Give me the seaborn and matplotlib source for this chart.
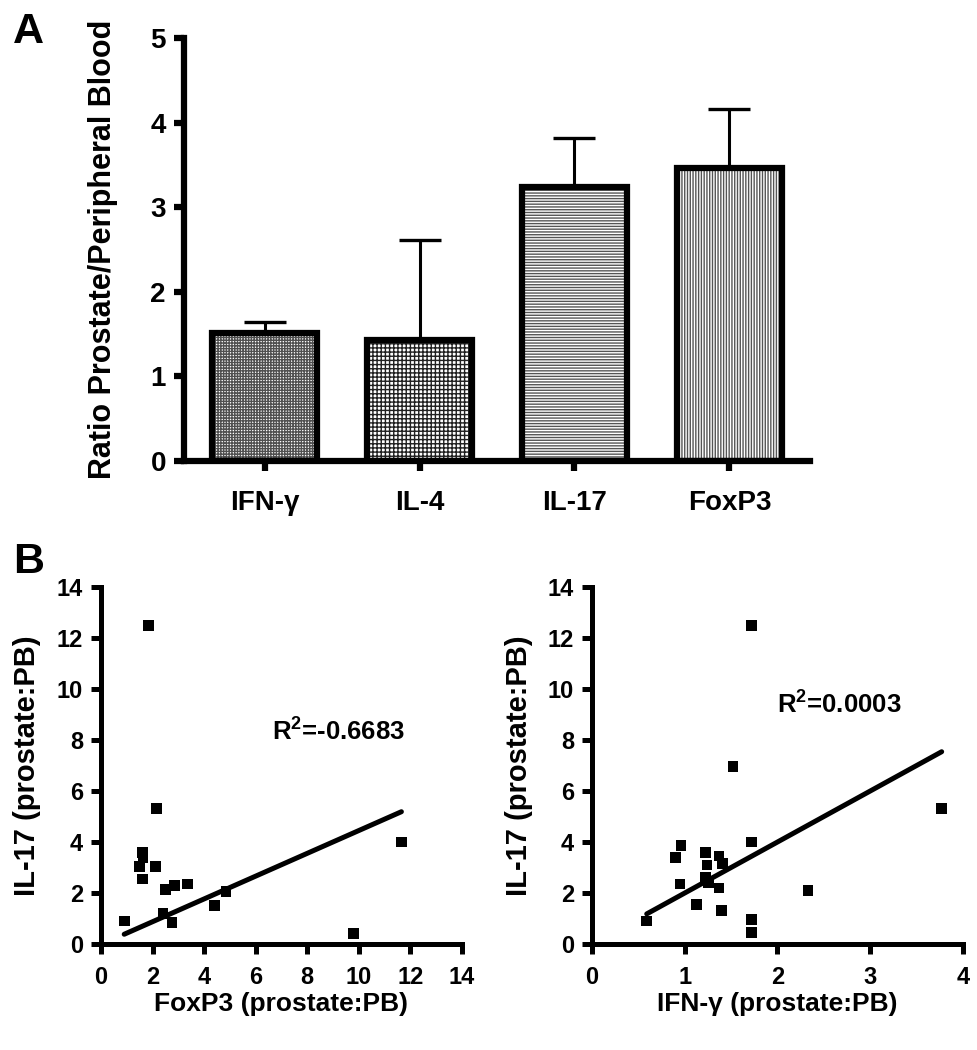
import numpy as np
import pandas as pd
import matplotlib
matplotlib.use("Agg")
import matplotlib.pyplot as plt
import seaborn as sns

# ============================================================
# DATA
# ============================================================

# Panel A: ratio prostate / peripheral blood, mean and upper error
cytokines = ["IFN-γ", "IL-4", "IL-17", "FoxP3"]
ratio_mean = [1.51, 1.43, 3.24, 3.46]
ratio_err = [0.13, 1.18, 0.58, 0.70]
bar_hatch = ["++++++", "++++", "------", "||||||"]
hatch_gray = ["#505050", "#202020", "#555555", "#555555"]

# Panel B left: FoxP3 vs IL-17 (prostate:PB)
foxp3_x = [0.9, 1.85, 2.15, 1.6, 1.63, 1.5, 1.6, 2.1, 2.5, 2.85, 3.35,
           2.4, 2.75, 4.4, 4.85, 9.8, 11.65]
foxp3_il17 = [0.9, 12.5, 5.3, 3.6, 3.4, 3.05, 2.55, 3.05, 2.15, 2.3, 2.35,
              1.2, 0.85, 1.5, 2.05, 0.4, 4.0]
foxp3_fit = [0.447, -0.02]          # slope, intercept
foxp3_r2 = "-0.6683"

# Panel B right: IFN-γ vs IL-17 (prostate:PB)
ifng_x = [0.59, 0.96, 0.9, 0.95, 1.13, 1.22, 1.24, 1.22, 1.26, 1.37, 1.41,
          1.37, 1.4, 1.52, 1.72, 1.72, 1.72, 1.72, 2.33, 3.77]
ifng_il17 = [0.9, 3.85, 3.4, 2.35, 1.55, 3.6, 3.1, 2.6, 2.4, 3.45, 3.15,
             2.2, 1.3, 6.95, 12.5, 4.0, 0.95, 0.45, 2.1, 5.3]
ifng_fit = [2.0, 0.0]
ifng_r2 = "0.0003"

# ============================================================
# STYLE
# ============================================================

sns.set_theme(style="ticks")
plt.rcParams["font.family"] = ["Liberation Sans", "DejaVu Sans"]
plt.rcParams["font.weight"] = "bold"
plt.rcParams["axes.labelweight"] = "bold"
plt.rcParams["text.color"] = "black"
plt.rcParams["axes.labelcolor"] = "black"
plt.rcParams["mathtext.fontset"] = "custom"
plt.rcParams["mathtext.rm"] = "Liberation Sans:bold"
plt.rcParams["mathtext.it"] = "Liberation Sans:bold"
plt.rcParams["mathtext.bf"] = "Liberation Sans:bold"
plt.rcParams["hatch.linewidth"] = 1.0

W, H = 978, 1050
fig = plt.figure(figsize=(W / 100, H / 100), dpi=100)


def px_axes(x0, y0, x1, y1):
    return fig.add_axes([x0 / W, 1 - y1 / H, (x1 - x0) / W, (y1 - y0) / H])


def style_axes(ax, lw, ticklen, pad, size):
    sns.despine(ax=ax)
    for s in ["left", "bottom"]:
        ax.spines[s].set_linewidth(lw)
        ax.spines[s].set_color("black")
    ax.tick_params(direction="out", length=ticklen, width=lw, color="black",
                   labelsize=size, pad=pad, labelcolor="black")
    for lab in ax.get_xticklabels() + ax.get_yticklabels():
        lab.set_fontweight("bold")


# ============================================================
# PANEL A – bar chart
# ============================================================

df_a = pd.DataFrame({"Cytokine": cytokines, "Ratio": ratio_mean})
axA = px_axes(184, 38, 810, 461)

sns.barplot(data=df_a, x="Cytokine", y="Ratio", width=0.68, color="white",
            linewidth=0, errorbar=None, ax=axA, zorder=1)
for patch, h, g in zip(axA.patches, bar_hatch, hatch_gray):
    patch.set_hatch(h)
    patch.set_edgecolor(g)

pos = np.arange(len(cytokines))
axA.errorbar(pos, ratio_mean, yerr=[np.zeros(len(pos)), ratio_err],
             fmt="none", ecolor="black", elinewidth=2.2, capsize=15,
             capthick=2.4, zorder=2)

sns.barplot(data=df_a, x="Cytokine", y="Ratio", width=0.68, fill=False,
            color="black", linewidth=4.5, errorbar=None, ax=axA, zorder=3)

axA.set_xlim(-0.52, 3.52)
axA.set_ylim(0, 5)
axA.set_yticks(range(0, 6))
style_axes(axA, 4.5, 7, 6, 20)
axA.tick_params(axis="x", pad=14)
axA.set_xlabel("")
axA.set_ylabel("Ratio Prostate/Peripheral Blood", fontsize=22)
axA.yaxis.set_label_coords(-0.105, 0.5)

# ============================================================
# PANEL B – scatter + fitted line
# ============================================================


def scatter_panel(ax, x, y, fit, r2, xmax, xstep, xlabel, txt_xy):
    sns.scatterplot(x=x, y=y, marker="s", s=60, color="black",
                    edgecolor="none", ax=ax, zorder=3, clip_on=False)
    xf = np.array([min(x), max(x)])
    sns.lineplot(x=xf, y=fit[0] * xf + fit[1], color="black", linewidth=3.6,
                 ax=ax, zorder=2)
    ax.text(txt_xy[0], txt_xy[1], "R$^{2}$=" + r2, fontsize=18.5,
            fontweight="bold", va="center", ha="left")
    ax.set_xlim(0, xmax)
    ax.set_ylim(0, 14)
    ax.set_xticks(np.arange(0, xmax + 0.01, xstep))
    ax.set_yticks(range(0, 15, 2))
    style_axes(ax, 3.6, 7, 6, 17)
    ax.tick_params(axis="x", pad=9)
    ax.set_xlabel(xlabel, fontsize=19)
    ax.set_ylabel("IL-17 (prostate:PB)", fontsize=21)


axB1 = px_axes(101, 587, 462, 944)
scatter_panel(axB1, foxp3_x, foxp3_il17, foxp3_fit, foxp3_r2, 14, 2,
              "FoxP3 (prostate:PB)", (6.65, 8.3))
axB1.xaxis.set_label_coords(0.5, -0.135)
axB1.yaxis.set_label_coords(-0.165, 0.5)

axB2 = px_axes(592, 587, 963, 944)
scatter_panel(axB2, ifng_x, ifng_il17, ifng_fit, ifng_r2, 4, 1,
              "IFN-γ (prostate:PB)", (2.0, 9.37))
axB2.xaxis.set_label_coords(0.5, -0.135)
axB2.yaxis.set_label_coords(-0.158, 0.5)

# panel letters
fig.text(13 / W, 1 - 12 / H, "A", fontsize=31, fontweight="bold", va="top")
fig.text(13 / W, 1 - 542 / H, "B", fontsize=31, fontweight="bold", va="top")

fig.savefig("out.png", dpi=100, facecolor="white")
